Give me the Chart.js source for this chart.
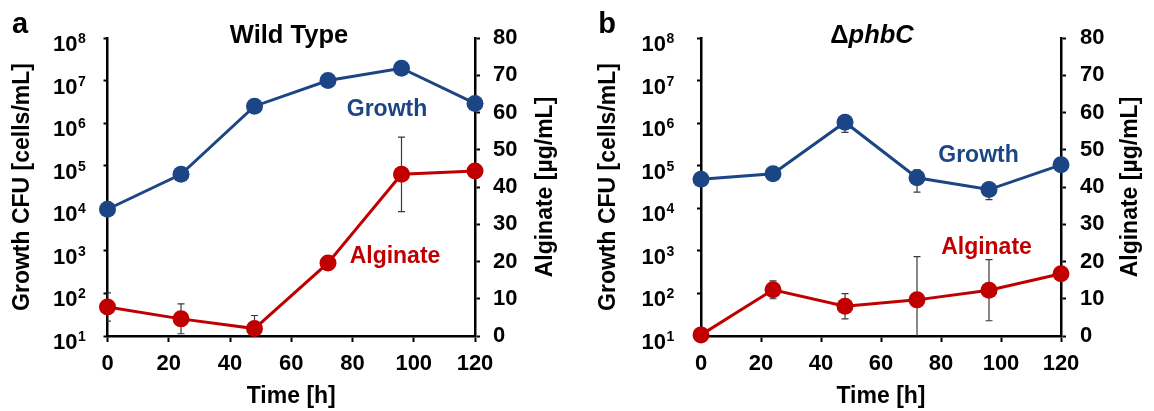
<!DOCTYPE html>
<html>
<head>
<meta charset="utf-8">
<script src="https://cdn.jsdelivr.net/npm/chart.js@4.4.1/dist/chart.umd.min.js"></script>
<style>
body{margin:0;background:#fff;width:1154px;height:411px;overflow:hidden}
.panel{position:absolute;top:0;width:577px;height:411px}
</style>
</head>
<body>
<div class="panel" style="left:0"><canvas id="chartA"></canvas></div>
<div class="panel" style="left:577px"><canvas id="chartB"></canvas></div>
<script>
// sampling times
var timeH = [0, 24, 48, 72, 96, 120];

// panel a - wild type
var growthWT = [9500, 63000, 2500000, 10000000, 19500000, 2900000];
var growthWTErr = [0, 0, 0, 0, 0, 0];
var alginateWT = [7.8, 4.6, 2.0, 19.6, 43.4, 44.3];
var alginateWTErr = [3.8, 4.0, 3.5, 1.0, 10.0, 0.8];

// panel b - phbC mutant
var growthMut = [48000, 65000, 1050000, 52000, 27500, 105000];
var growthMutErr = [6000, 8000, 440000, 28000, 11600, 10000];
var alginateMut = [0.3, 12.4, 8.0, 9.7, 12.3, 16.7];
var alginateMutErr = [0.3, 2.4, 3.4, 11.6, 8.2, 0.5];

var logTicks = [1e1, 1e2, 1e3, 1e4, 1e5, 1e6, 1e7, 1e8];
var alginateTicks = [0, 10, 20, 30, 40, 50, 60, 70, 80];
var xTicks = [0, 20, 40, 60, 80, 100, 120];

var blue = '#1B4584';
var red = '#C00000';
var FONT = '"Liberation Sans", Arial, sans-serif';

function pts(ys) {
  return timeH.map(function (t, i) { return {x: t, y: ys[i]}; });
}

var errorBarPlugin = {
  id: 'errorBars',
  beforeDatasetsDraw: function (chart) {
    var ctx = chart.ctx, area = chart.chartArea, xs = chart.scales.x;
    ctx.save();
    ctx.beginPath();
    ctx.rect(area.left, area.top, area.right - area.left, area.bottom - area.top);
    ctx.clip();
    ctx.strokeStyle = '#3a3a3a';
    ctx.lineWidth = 1.2;
    chart.data.datasets.forEach(function (ds) {
      if (!ds.errors) return;
      var ys = chart.scales[ds.yAxisID];
      ds.data.forEach(function (p, i) {
        var e = ds.errors[i];
        if (!e) return;
        var px = xs.getPixelForValue(p.x);
        var top = ys.getPixelForValue(p.y + e);
        var lo = p.y - e;
        var bot = (ys.type === 'logarithmic' && lo <= 0) ? area.bottom + 10 : ys.getPixelForValue(lo);
        ctx.beginPath();
        ctx.moveTo(px, top); ctx.lineTo(px, bot);
        ctx.moveTo(px - 3.5, top); ctx.lineTo(px + 3.5, top);
        ctx.moveTo(px - 3.5, bot); ctx.lineTo(px + 3.5, bot);
        ctx.stroke();
      });
    });
    ctx.restore();
  }
};

// panel letter, titles, series labels, exponents of the log ticks, right axis title
var textPlugin = {
  id: 'panelText',
  afterDraw: function (chart, args, opts) {
    var ctx = chart.ctx;
    ctx.save();
    ctx.textBaseline = 'alphabetic';
    opts.items.forEach(function (it) {
      var parts = it.parts || [{text: it.text, font: it.font}];
      var w = 0;
      parts.forEach(function (p) { ctx.font = p.font; w += ctx.measureText(p.text).width; });
      var x = it.x - w / 2;
      ctx.fillStyle = it.color || '#000';
      ctx.textAlign = 'left';
      parts.forEach(function (p) {
        ctx.font = p.font;
        ctx.fillText(p.text, x, it.y);
        x += ctx.measureText(p.text).width;
      });
    });

    // exponents next to the "10" tick labels
    var ys = chart.scales.y;
    var ex = ys.right - ys.options.grid.tickLength - ys.options.ticks.padding + 0.5;
    ctx.font = 'bold 14px ' + FONT;
    ctx.fillStyle = '#000';
    ctx.textAlign = 'left';
    ys.ticks.forEach(function (t) {
      ctx.fillText(String(Math.round(Math.log10(t.value))), ex, ys.getPixelForValue(t.value) + 5);
    });

    // right axis title, reading bottom to top
    var r = chart.scales.y1;
    ctx.save();
    ctx.translate(opts.rightTitleX, (r.top + r.bottom) / 2);
    ctx.rotate(-Math.PI / 2);
    ctx.textAlign = 'center';
    ctx.font = 'bold 23px ' + FONT;
    ctx.fillText(opts.rightTitle, 0, 0);
    ctx.restore();
    ctx.restore();
  }
};

function makeChart(id, growth, growthErr, alg, algErr, dims, items) {
  var tickFont = {family: FONT, size: 22, weight: 'bold'};
  var titleFont = {family: FONT, size: 23, weight: 'bold'};
  return new Chart(document.getElementById(id), {
    type: 'line',
    data: {
      datasets: [{
        label: 'Growth',
        data: pts(growth),
        errors: growthErr,
        yAxisID: 'y',
        borderColor: blue,
        backgroundColor: blue,
        borderWidth: 3,
        pointRadius: 8.5,
        pointHoverRadius: 8.5,
        pointBorderWidth: 0,
        clip: false
      }, {
        label: 'Alginate',
        data: pts(alg),
        errors: algErr,
        yAxisID: 'y1',
        borderColor: red,
        backgroundColor: red,
        borderWidth: 3,
        pointRadius: 8.5,
        pointHoverRadius: 8.5,
        pointBorderWidth: 0,
        clip: false
      }]
    },
    options: {
      responsive: true,
      maintainAspectRatio: false,
      animation: false,
      layout: {padding: {top: dims.top, left: 0, right: 0, bottom: 0}},
      plugins: {
        legend: {display: false},
        tooltip: {enabled: false},
        panelText: {items: items, rightTitle: 'Alginate [\u00B5g/mL]', rightTitleX: dims.rightTitleX}
      },
      scales: {
        x: {
          type: 'linear',
          min: 0,
          max: 120,
          afterBuildTicks: function (s) { s.ticks = xTicks.map(function (v) { return {value: v}; }); },
          ticks: {color: '#000', font: tickFont, padding: 9, maxRotation: 0},
          grid: {drawOnChartArea: false, color: '#000', tickLength: 6, tickWidth: 2},
          border: {color: '#000', width: 2.5},
          title: {display: true, text: 'Time [h]', color: '#000', font: titleFont, padding: {top: 0, bottom: 1}},
          afterFit: function (s) { s.height = 411 - dims.bottom; }
        },
        y: {
          type: 'logarithmic',
          position: 'left',
          min: 10,
          max: 1e8,
          afterBuildTicks: function (s) { s.ticks = logTicks.map(function (v) { return {value: v}; }); },
          ticks: {
            color: '#000', font: tickFont, padding: dims.leftPad, labelOffset: 7,
            callback: function () { return '10'; }
          },
          grid: {drawOnChartArea: false, color: '#000', tickLength: 4, tickWidth: 2},
          border: {color: '#000', width: 2.5},
          title: {display: true, text: 'Growth CFU [cells/mL]', color: '#000', font: titleFont, padding: {top: dims.leftTitle, bottom: 0}},
          afterFit: function (s) { s.width = dims.left; s.paddingTop = 12; s.paddingBottom = 12; }
        },
        y1: {
          type: 'linear',
          position: 'right',
          min: 0,
          max: 80,
          afterBuildTicks: function (s) { s.ticks = alginateTicks.map(function (v) { return {value: v}; }); },
          ticks: {color: '#000', font: tickFont, padding: dims.rightPad},
          grid: {drawOnChartArea: false, color: '#000', tickLength: 5, tickWidth: 2},
          border: {color: '#000', width: 2.5},
          afterFit: function (s) { s.width = 577 - dims.right; s.paddingTop = 12; s.paddingBottom = 12; }
        }
      }
    },
    plugins: [errorBarPlugin, textPlugin]
  });
}

var label23 = 'bold 23px ' + FONT;

makeChart('chartA', growthWT, growthWTErr, alginateWT, alginateWTErr,
  {top: 38, bottom: 336, left: 107.5, right: 475, leftPad: 26, leftTitle: 9, rightPad: 13, rightTitleX: 551.5},
  [
    {text: 'a', font: 'bold 29px ' + FONT, x: 20, y: 33},
    {text: 'Wild Type', font: 'bold 25.5px ' + FONT, x: 289, y: 43},
    {text: 'Growth', font: label23, color: blue, x: 387, y: 116},
    {text: 'Alginate', font: label23, color: red, x: 395, y: 263}
  ]);

makeChart('chartB', growthMut, growthMutErr, alginateMut, alginateMutErr,
  {top: 38, bottom: 336, left: 124, right: 484, leftPad: 31, leftTitle: 18, rightPad: 14, rightTitleX: 560},
  [
    {text: 'b', font: 'bold 29px ' + FONT, x: 30, y: 33},
    {parts: [{text: '\u0394', font: 'bold 25.5px ' + FONT}, {text: 'phbC', font: 'italic bold 25.5px ' + FONT}], x: 295, y: 43},
    {text: 'Growth', font: label23, color: blue, x: 401.5, y: 162},
    {text: 'Alginate', font: label23, color: red, x: 409.5, y: 254}
  ]);
</script>
</body>
</html>
